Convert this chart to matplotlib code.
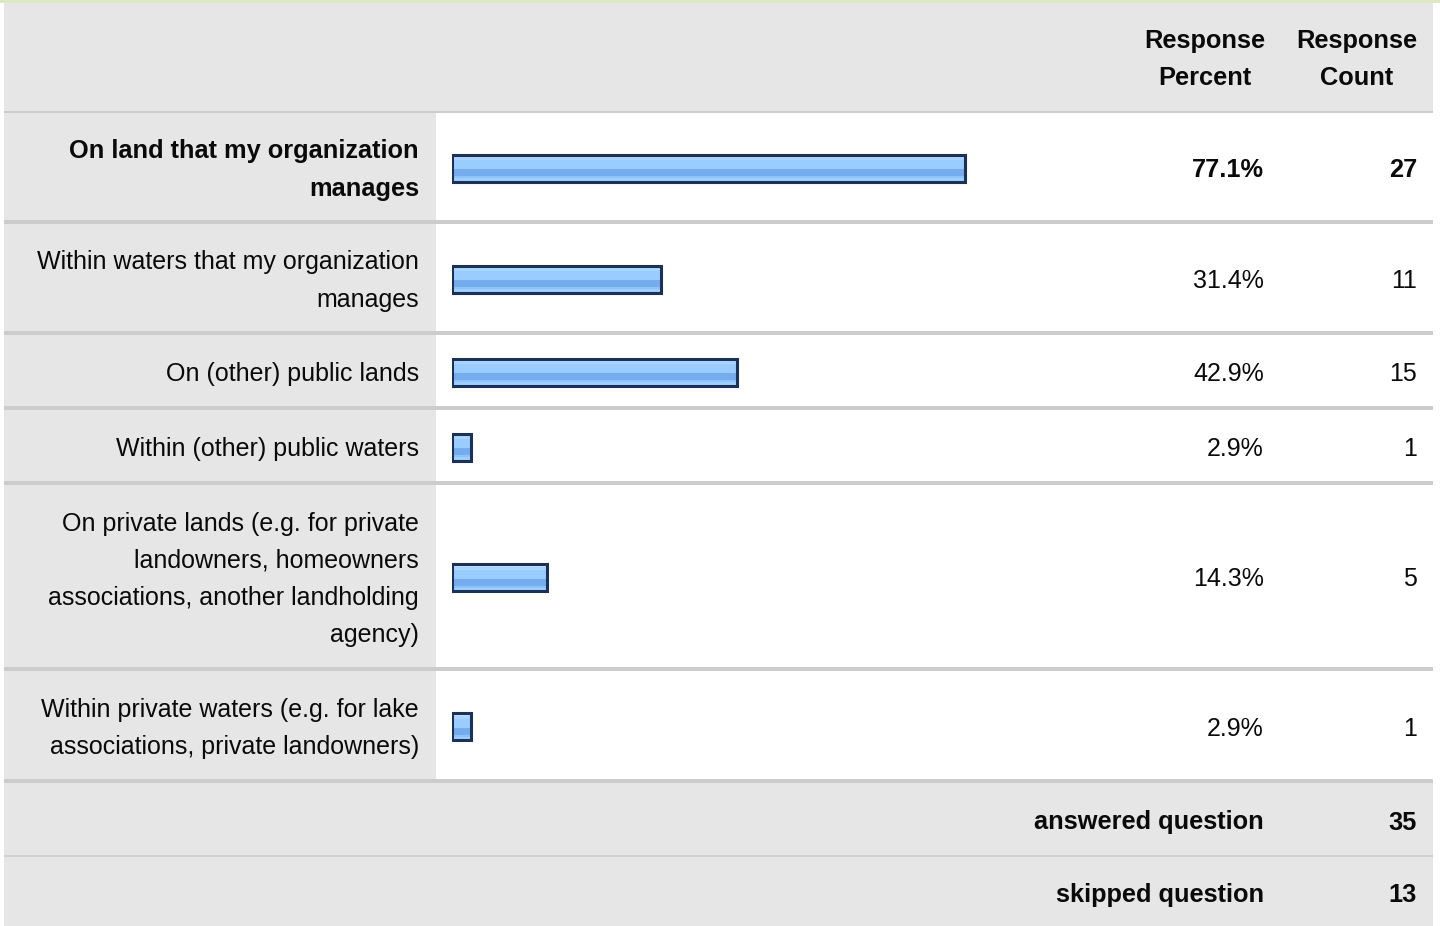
import numpy as np
import matplotlib.pyplot as plt
from matplotlib.patches import Rectangle
from matplotlib.colors import ListedColormap

plt.rcParams['font.family'] = ['Liberation Sans', 'DejaVu Sans']

# Data
answers = [
    "On land that my organization\nmanages",
    "Within waters that my organization\nmanages",
    "On (other) public lands",
    "Within (other) public waters",
    "On private lands (e.g. for private\nlandowners, homeowners\nassociations, another landholding\nagency)",
    "Within private waters (e.g. for lake\nassociations, private landowners)",
]
percent = [77.1, 31.4, 42.9, 2.9, 14.3, 2.9]
counts = [27, 11, 15, 1, 5, 1]
highlight = [True, False, False, False, False, False]
footer_labels = ["answered question", "skipped question"]
footer_values = [35, 13]

# Layout (pixels)
W, H = 1440, 926
left, right = 4, 1433
header_h = 108
row_h = [107, 107, 71, 71, 182, 108]
foot_h = [72, 69]
sep = 4
gray = '#e6e6e6'
sepc = '#cccccc'
fs, fs_bold = 18.0, 18.3
line_px = 37.3
dy = 3.5   # baseline nudge

fig = plt.figure(figsize=(W / 100, H / 100), dpi=100)
ax = fig.add_axes([0, 0, 1, 1])
ax.set_xlim(0, W)
ax.set_ylim(H, 0)
ax.axis('off')


def lines(x, yc, text, ha='right', bold=False):
    parts = text.split('\n')
    n = len(parts)
    for i, t in enumerate(parts):
        y = yc + dy + (i - (n - 1) / 2) * line_px
        ax.text(x, y, t, ha=ha, va='center', fontsize=fs_bold if bold else fs,
                color='#0a0a0a', fontweight='bold' if bold else 'normal')


# top line + header
ax.add_patch(Rectangle((0, 0), W, 3, color='#dfe8c4', lw=0))
ax.add_patch(Rectangle((left, 3), right - left, header_h, color=gray, lw=0))
y = 3 + header_h
ax.add_patch(Rectangle((left, y), right - left, 2, color=sepc, lw=0))
y += 2
lines(1205, 56, "Response\nPercent", ha='center', bold=True)
lines(1357, 56, "Response\nCount", ha='center', bold=True)

# bar axes: percent scale
bar_x0, bar_px = 452, 665
bax = fig.add_axes([bar_x0 / W, 0, bar_px / W, 1])
bax.set_xlim(0, 100)
bax.set_ylim(H, 0)
bax.axis('off')
bax.patch.set_alpha(0)

grad = ListedColormap(['#c2deff'] * 3 + ['#aad3ff'] * 3 + ['#99ccff'] * 8 +
                      ['#74acee'] * 6 + ['#8cc4fc'] * 2 + ['#a0cfff'] * 3)
bar_h = 27

for lab, p, c, hl, h in zip(answers, percent, counts, highlight, row_h):
    ax.add_patch(Rectangle((left, y), 436 - left, h, color=gray, lw=0))
    yc = y + h / 2
    lines(419, yc, lab, bold=hl)
    lines(1264, yc, f"{p}%", bold=hl)
    lines(1417, yc, str(c), bold=hl)
    yb = yc + 1.5
    bax.imshow(np.linspace(0, 1, 25).reshape(-1, 1), cmap=grad, aspect='auto',
               extent=[0, p, yb + bar_h / 2, yb - bar_h / 2], interpolation='nearest',
               zorder=2)
    bax.barh(yb, p, height=bar_h, left=0, facecolor='none', edgecolor='#1b3157',
             linewidth=2.2, zorder=3)
    y += h
    ax.add_patch(Rectangle((left, y), right - left, sep, color=sepc, lw=0))
    y += sep

for i, (lab, v, h) in enumerate(zip(footer_labels, footer_values, foot_h)):
    ax.add_patch(Rectangle((left, y), right - left, h, color=gray, lw=0))
    yc = y + h / 2
    lines(1264, yc, lab, bold=True)
    lines(1417, yc, str(v), bold=True)
    y += h
    if i == 0:
        ax.add_patch(Rectangle((left, y), right - left, 2, color='#d2d2d2', lw=0))
        y += 2

bax.set_xlim(0, 100)
bax.set_ylim(H, 0)
fig.savefig('out.png', dpi=100)
